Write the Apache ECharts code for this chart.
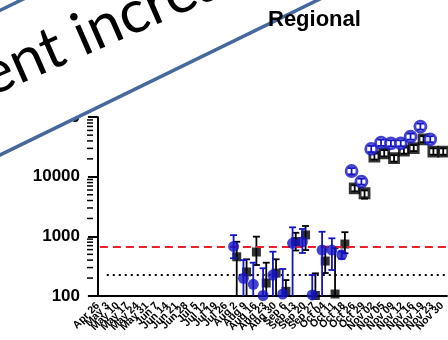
<!DOCTYPE html>
<html>
<head>
<meta charset="utf-8">
<script src="https://cdn.jsdelivr.net/npm/echarts@6/dist/echarts.min.js"></script>
<style>
html,body{margin:0;padding:0;background:#fff;}
#chart{width:448px;height:340px;}
</style>
</head>
<body>
<div id="chart"></div>
<script>
// Sampling weeks shown on the x axis
const weeks = ['Apr 26','May 3','May 10','May 17','May 24','May 31','Jun 7','Jun 14','Jun 21','Jun 28',
  'Jul 5','Jul 12','Jul 19','Jul 26','Aug 2','Aug 9','Aug 16','Aug 23','Aug 30','Sep 6','Sep 13','Sep 20',
  'Sep 27','Oct 04','Oct 11','Oct 18','Oct 26','Oct 29','Nov 02','Nov 05','Nov 09','Nov 12','Nov 16',
  'Nov 19','Nov 23','Nov 30'];

// Blue series: mean and error range (null = no sample)
const blueMean  = [null,null,null,null,null,null,null,null,null,null,null,null,null,null,
  680,198,157,102,225,108,767,814,104,590,590,490,12500,8300,29300,37400,36500,36500,47000,69600,42500,null];
const blueHigh  = [null,null,null,null,null,null,null,null,null,null,null,null,null,null,
  1050,400,362,292,554,284,1420,1330,225,1197,929,560,14000,9300,33000,42000,41000,41000,53000,78000,48000,null];
const blueLow   = [null,null,null,null,null,null,null,null,null,null,null,null,null,null,
  430,10,10,10,10,10,10,527,10,10,273,420,11000,7400,26000,33000,32500,32500,42000,62000,38000,null];

// Black series: mean and error range
const blackMean = [null,null,null,null,null,null,null,null,null,null,null,null,null,null,
  455,253,547,165,242,120,820,1058,102,386,108,745,6400,5300,21800,24800,20500,27500,30200,42500,26400,26400];
const blackHigh = [null,null,null,null,null,null,null,null,null,null,null,null,null,null,
  813,413,990,362,413,185,1150,1495,240,672,640,1176,7200,5900,24500,28000,23000,31000,34000,48000,30000,30000];
const blackLow  = [null,null,null,null,null,null,null,null,null,null,null,null,null,null,
  10,10,331,10,10,10,580,590,10,243,10,521,5700,4300,19500,22000,18000,24500,27000,38000,23500,23500];

// Reference levels
const upperLimit = 670;
const lowerLimit = 225;

// Y axis range and log minor ticks
const yMin = 100, yMax = 100000;
const minorTicks = [];
for (let d = 100; d < yMax; d *= 10) for (let k = 2; k <= 9; k++) minorTicks.push(d * k);

const BLUE = '#1414c4';
const BLACK = '#000000';
const OPEN_FROM = 26;   // later samples drawn with hollow markers

function points(mean, color, nudge) {
  const out = [];
  mean.forEach((v, i) => {
    if (v == null) return;
    const open = i >= OPEN_FROM;
    out.push({
      value: [i + nudge, v],
      itemStyle: open
        ? { color: '#fff', borderColor: color, borderWidth: 2.8 }
        : { color: color, borderColor: color, borderWidth: 0 }
    });
  });
  return out;
}
function bars(mean, hi, lo, nudge) {
  const out = [];
  mean.forEach((v, i) => { if (v != null) out.push([i + nudge, hi[i], lo[i]]); });
  return out;
}
function errorBars(color) {
  return function (params, api) {
    const x = api.value(0), hi = api.value(1), lo = api.value(2);
    const top = api.coord([x, hi]);
    const bot = api.coord([x, Math.max(lo, yMin)]);
    const cap = 3.5;
    const st = { stroke: color, lineWidth: 1.8 };
    const kids = [
      { type: 'line', shape: { x1: top[0], y1: top[1], x2: bot[0], y2: bot[1] }, style: st },
      { type: 'line', shape: { x1: top[0] - cap, y1: top[1], x2: top[0] + cap, y2: top[1] }, style: st }
    ];
    if (lo >= yMin) kids.push({ type: 'line', shape: { x1: bot[0] - cap, y1: bot[1], x2: bot[0] + cap, y2: bot[1] }, style: st });
    return { type: 'group', children: kids };
  };
}

const chart = echarts.init(document.getElementById('chart'), null, { renderer: 'canvas' });
const FONT = 'Liberation Sans';

chart.setOption({
  animation: false,
  backgroundColor: '#fff',
  grid: { left: 93, top: 117.2, bottom: 44, right: -1.4, containLabel: false },
  xAxis: [
    {
      type: 'category', data: weeks, boundaryGap: true,
      axisLine: { lineStyle: { color: '#000', width: 2 } },
      axisTick: { alignWithLabel: true, length: 6, lineStyle: { color: '#000', width: 2 } },
      axisLabel: { interval: 0, rotate: 45, margin: 8, color: '#000', fontSize: 10.5,
        fontWeight: 'bold', fontFamily: FONT },
      splitLine: { show: false }
    },
    { type: 'value', min: -0.5, max: weeks.length - 0.5, show: false }
  ],
  yAxis: {
    type: 'log', logBase: 10, min: yMin, max: yMax,
    axisLine: { show: true, lineStyle: { color: '#000', width: 2 } },
    axisTick: { show: true, length: 10, lineStyle: { color: '#000', width: 2 } },
    axisLabel: { color: '#000', fontSize: 17, fontWeight: 'bold', fontFamily: FONT, margin: 13,
      formatter: v => String(Math.round(v)) },
    splitLine: { show: false }
  },
  series: [
    {
      type: 'custom', xAxisIndex: 1, clip: false, silent: true, z: 1,
      data: minorTicks.map(v => [-0.5, v]),
      renderItem: function (params, api) {
        const p = api.coord([api.value(0), api.value(1)]);
        return { type: 'line', shape: { x1: p[0] - 6, y1: p[1], x2: p[0], y2: p[1] },
          style: { stroke: '#000', lineWidth: 1.5 } };
      }
    },
    {
      type: 'scatter', xAxisIndex: 1, data: [], silent: true,
      markLine: {
        silent: true, symbol: 'none', label: { show: false },
        data: [
          [{ coord: [0.2, upperLimit], lineStyle: { color: '#e8212b', width: 2, type: [8, 5] } },
           { coord: [weeks.length - 0.5, upperLimit] }],
          [{ coord: [0.9, lowerLimit], lineStyle: { color: '#000', width: 2, type: [2, 4] } },
           { coord: [weeks.length - 0.5, lowerLimit] }]
        ]
      }
    },
    { type: 'scatter', xAxisIndex: 1, z: 3, symbol: 'rect', symbolSize: 9,
      data: points(blackMean, BLACK, 0.12) },
    { type: 'custom', xAxisIndex: 1, z: 4, data: bars(blackMean, blackHigh, blackLow, 0.12),
      renderItem: errorBars(BLACK) },
    { type: 'scatter', xAxisIndex: 1, z: 5, symbol: 'circle', symbolSize: 11,
      data: points(blueMean, BLUE, -0.2) },
    { type: 'custom', xAxisIndex: 1, z: 6, data: bars(blueMean, blueHigh, blueLow, -0.2),
      renderItem: errorBars(BLUE) }
  ],
  graphic: [
    { type: 'group', x: 0, y: 155, rotation: 0.4537, children: [
      { type: 'rect', z: 100, shape: { x: -300, y: -130, width: 900, height: 130 },
        style: { fill: '#fff', stroke: '#45699c', lineWidth: 3.5 } }
    ] },
    { type: 'group', x: -93, y: 145, rotation: 0.412, children: [
      { type: 'text', z: 101, x: 0, y: 0,
        style: { text: 'Recent increase', font: '60px Lato', fill: '#000',
          textAlign: 'left', textVerticalAlign: 'bottom' } }
    ] },
    { type: 'text', left: 268, top: 9, z: 102,
      style: { text: 'Regional', font: 'bold 22px "Liberation Sans"', fill: '#000' } }
  ]
});
</script>
</body>
</html>
